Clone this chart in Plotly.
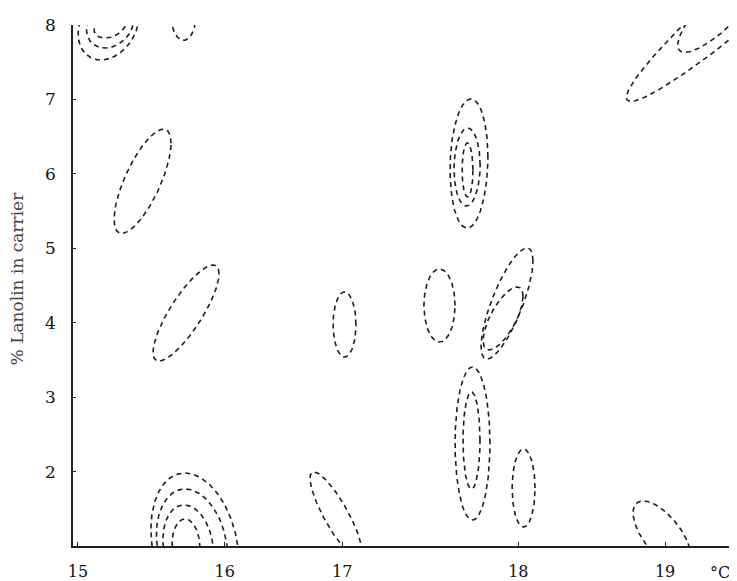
import numpy as np
import plotly.graph_objects as go

# ---- Data (temperature °C vs % lanolin) ----
# Each dashed contour is an ellipse: centre, half-extent in x and y, tilt (correlation, -1..1)
ELL_CX = [15.221, 15.218, 15.208, 15.719,
          15.44, 15.736,
          15.797, 15.777, 15.750, 15.736,
          16.816, 16.758, 17.463,
          17.664, 17.651, 17.654,
          17.688, 17.681,
          17.923, 17.896, 18.036, 18.980,
          19.668, 19.388]
ELL_CY = [8.0, 8.0, 8.0, 8.13,
          5.90, 4.13,
          1.0, 1.0, 1.0, 1.0,
          3.976, 1.417, 4.231,
          6.139, 6.092, 6.052,
          2.377, 2.418,
          4.258, 4.057, 1.779, 1.148,
          8.578, 8.228]
ELL_RX = [0.112, 0.160, 0.207, 0.085,
          0.194, 0.225,
          0.300, 0.243, 0.172, 0.095,
          0.078, 0.177, 0.106,
          0.129, 0.089, 0.037,
          0.119, 0.058,
          0.177, 0.136, 0.078, 0.198,
          0.932, 0.302]
ELL_RY = [0.175, 0.309, 0.470, 0.336,
          0.70, 0.645,
          0.98, 0.766, 0.551, 0.363,
          0.437, 0.578, 0.49,
          0.867, 0.524, 0.363,
          1.028, 0.652,
          0.746, 0.423, 0.524, 0.457,
          1.604, 0.595]
ELL_TILT = [0.33, 0.21, 0.25, 0.0,
            0.73, 0.82,
            -0.23, -0.196, -0.16, -0.07,
            0.0, -0.85, 0.0,
            0.1, 0.05, 0.0,
            0.0, 0.0,
            0.77, 0.70, 0.0, -0.65,
            0.967, 0.835]

X_TICK_VALS = [15, 16, 16.8, 18, 19]   # "17" is printed at this position in the reference
X_TICK_TEXT = ["15", "16", "17", "18", "19"]
Y_TICK_VALS = [2, 3, 4, 5, 6, 7, 8]
Y_TICK_TEXT = ["2", "3", "4", "5", "6", "7", "8"]
X_RANGE = [14.966, 19.49]
Y_RANGE = [1, 8]

fig = go.Figure()
t = np.linspace(0, 2 * np.pi, 240)
for cx, cy, rx, ry, r in zip(ELL_CX, ELL_CY, ELL_RX, ELL_RY, ELL_TILT):
    s = np.sqrt(1 - r * r)
    xs = cx + rx * np.cos(t)
    ys = cy + ry * (r * np.cos(t) + s * np.sin(t))
    fig.add_trace(go.Scatter(x=xs, y=ys, mode="lines",
                             line=dict(color="#1e1e1e", width=1.6, dash="5px,4px"),
                             hoverinfo="skip", showlegend=False))

serif = "DejaVu Serif"
# page body has an 8px margin, so the figure is 8px smaller than the window
fig.update_layout(
    width=729, height=573,
    margin=dict(l=65, r=0, t=17, b=35, autoexpand=False),
    paper_bgcolor="white", plot_bgcolor="white",
    showlegend=False,
    xaxis=dict(range=X_RANGE, showgrid=False, zeroline=False, automargin=False,
               showline=True, linecolor="#222", linewidth=1.6,
               ticks="inside", ticklen=4, tickcolor="#222",
               tickvals=X_TICK_VALS, ticktext=X_TICK_TEXT,
               tickfont=dict(family=serif, size=16, color="#111"),
               ticklabelstandoff=10),
    yaxis=dict(range=Y_RANGE, showgrid=False, zeroline=False, automargin=False,
               showline=True, linecolor="#222", linewidth=1.6,
               ticks="inside", ticklen=3, tickcolor="#222",
               tickvals=Y_TICK_VALS, ticktext=Y_TICK_TEXT,
               tickfont=dict(family=serif, size=17, color="#111"),
               ticklabelstandoff=12),
    annotations=[
        dict(text="°C", x=19.375, xref="x", y=-0.05, yref="paper",
             xanchor="center", yanchor="middle", showarrow=False,
             font=dict(family=serif, size=16, color="#111")),
        dict(text="% Lanolin in carrier", textangle=-90,
             x=-0.084, xref="paper", y=0.514, yref="paper",
             xanchor="center", yanchor="middle", showarrow=False,
             font=dict(family=serif, size=17, color="#444")),
    ],
)

fig.write_html("out.html")
